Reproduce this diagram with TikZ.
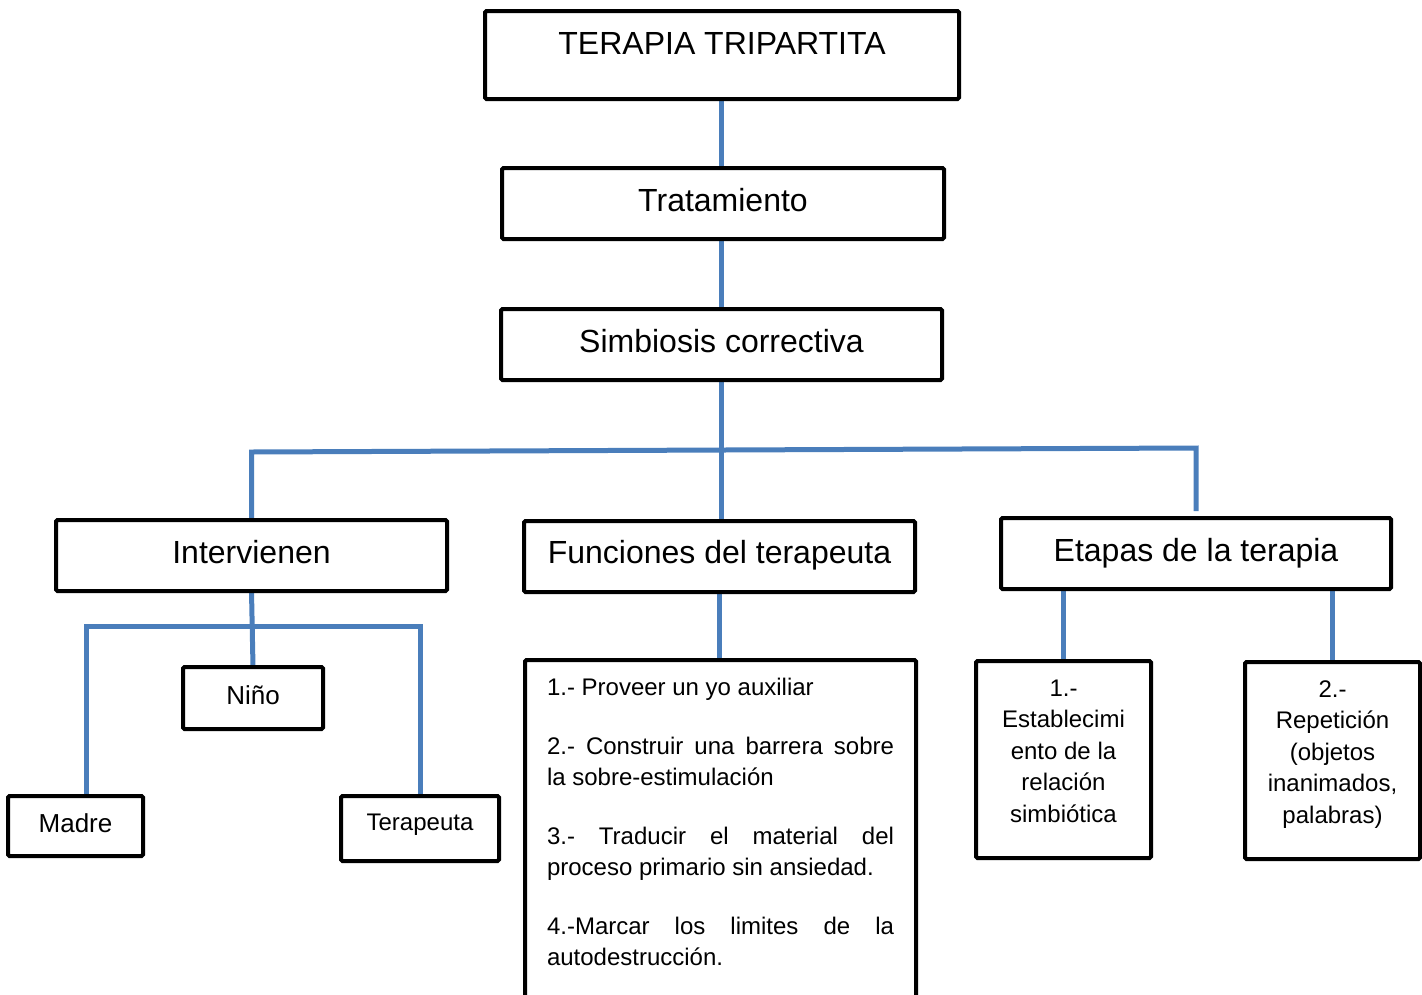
\documentclass[tikz,border=0pt]{standalone}
\usepackage{fontspec}
\setmainfont{Liberation Sans}
\usetikzlibrary{backgrounds}
\definecolor{linkblue}{HTML}{4A7EBB}
\tikzset{
  box/.style={draw=black, line width=4pt, inner sep=0pt, outer sep=0pt, rounded corners=1.5pt, align=center},
  big/.style={font=\fontsize{32}{38}\selectfont, text height=24pt},
  mid/.style={font=\fontsize{26}{31}\selectfont, text height=19.5pt},
  small/.style={font=\fontsize{24}{31.5}\selectfont, text height=18pt},
  link/.style={draw=linkblue, line width=5pt},
  plain/.style={inner sep=0pt, outer sep=0pt}
}
\begin{document}
\begin{tikzpicture}[x=1pt,y=-1pt]
\useasboundingbox (0,0) rectangle (1422,994);
\clip (0,0) rectangle (1422,994);

% level boxes
\node[box,big,minimum width=474pt,minimum height=88pt,text depth=26pt] (top) at (722,55) {TERAPIA TRIPARTITA};
\node[box,big,minimum width=442pt,minimum height=71pt,text depth=9pt] (trat) at (723,203.5) {Tratamiento};
\node[box,big,minimum width=441pt,minimum height=71pt,text depth=9pt] (simb) at (721.5,344.5) {Simbiosis correctiva};
\node[box,big,minimum width=391pt,minimum height=71pt,text depth=9pt] (intv) at (251.5,555.5) {Intervienen};
\node[box,big,minimum width=391pt,minimum height=71pt,text depth=11pt] (func) at (719.5,556.5) {Funciones del terapeuta};
\node[box,big,minimum width=390pt,minimum height=71pt,text depth=9pt] (etap) at (1196,553.5) {Etapas de la terapia};

% participants
\node[box,mid,minimum width=140pt,minimum height=62pt,text depth=7.5pt] (nino) at (253,698) {Niño};
\node[box,mid,minimum width=135pt,minimum height=60pt,text depth=6pt] (madre) at (75.5,826) {Madre};
\node[box,small,minimum width=158pt,minimum height=65pt,text depth=15pt] (terap) at (420,828.5) {Terapeuta};

% functions list
\node[box,minimum width=391pt,minimum height=360pt] (list) at (720.5,840) {};
\node[plain,anchor=base west] (listtxt) at ([xshift=22pt,yshift=-35pt]list.north west)
  {\parbox[t]{347pt}{\fontsize{24}{31}\selectfont\setlength{\parindent}{0pt}\setlength{\parskip}{28pt}%
   \tolerance=10000\hyphenpenalty=10000
   1.- Proveer un yo auxiliar\par
   2.- Construir una barrera sobre\linebreak la sobre-estimulación\par
   3.- Traducir el material del\linebreak proceso primario sin ansiedad.\par
   4.-Marcar los limites de la\linebreak autodestrucción.}};

% stages
\node[box,minimum width=175pt,minimum height=197pt] (e1) at (1063.5,759.5) {};
\node[box,minimum width=175pt,minimum height=197pt] (e2) at (1332.5,760.5) {};
\node[plain,anchor=base] (e1t) at ([yshift=-35pt]e1.north)
  {\parbox[t]{175pt}{\centering\fontsize{24}{31.5}\selectfont 1.-\\Establecimi\\ento de la\\relación\\simbiótica}};
\node[plain,anchor=base] (e2t) at ([yshift=-35pt]e2.north)
  {\parbox[t]{175pt}{\centering\fontsize{24}{31.6}\selectfont 2.-\\Repetición\\(objetos\\inanimados,\\palabras)}};

% connectors
\coordinate (hl) at (251.5,452);
\coordinate (hr) at (1196,448);
\coordinate (er) at (1196,511);
\coordinate (ml) at (86,626);
\coordinate (mr) at (420,626);
\begin{scope}[on background layer]
\draw[link] (simb.north |- top.south) -- (simb.north |- trat.north);
\draw[link] (simb.north |- trat.south) -- (simb.north);
\draw[link] (simb.south) -- (simb.south |- func.north);
\draw[link] (intv.north) -- (hl) -- (hr) -- (er);
\draw[link] (intv.south) -- (nino.north);
\draw[link] (ml |- madre.north) -- (ml) -- (mr) -- (terap.north);
\draw[link] (func.south) -- (func.south |- list.north);
\draw[link] (etap.south -| e1.north) -- (e1.north);
\draw[link] (etap.south -| e2.north) -- (e2.north);
\end{scope}
\end{tikzpicture}
\end{document}
